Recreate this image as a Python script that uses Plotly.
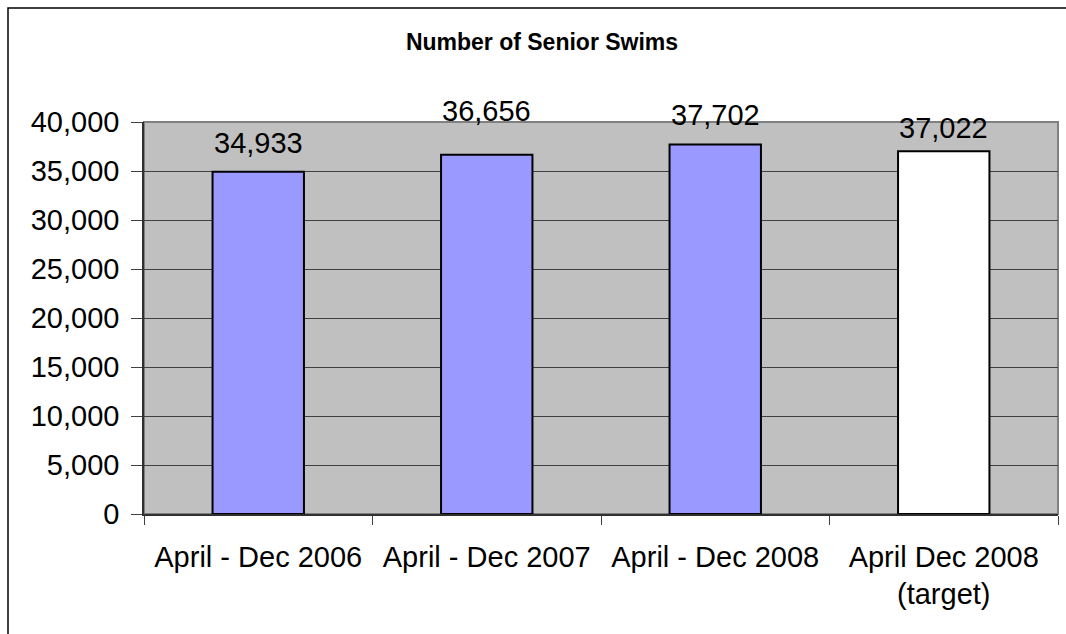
import plotly.graph_objects as go

# Senior swims per period
categories = ["April - Dec 2006", "April - Dec 2007", "April - Dec 2008", "April Dec 2008<br>(target)"]
swims = [34933, 36656, 37702, 37022]
bar_colors = ["#9999FF", "#9999FF", "#9999FF", "#FFFFFF"]
label_shift = [29, 44, 30, 23]  # vertical offset of each value label, px
y_ticks = [0, 5000, 10000, 15000, 20000, 25000, 30000, 35000, 40000]

W, H = 1066, 634
ML, MR, MT, MB = 144, 8, 122, 120
FONT = "Liberation Sans, Arial, sans-serif"

fig = go.Figure()
fig.add_trace(go.Bar(
    x=categories,
    y=swims,
    width=0.4,
    marker=dict(color=bar_colors, line=dict(color="#000000", width=2)),
    hoverinfo="skip",
))

# value labels above each bar
for cat, val, dy in zip(categories, swims, label_shift):
    fig.add_annotation(
        x=cat, y=val, text=f"{val:,}", showarrow=False,
        yanchor="middle", yshift=dy,
        font=dict(family=FONT, size=29, color="#000000"),
    )

# outer chart frame (left and top edges visible)
pw, ph = W - ML - MR, H - MT - MB
fig.add_shape(
    type="rect", xref="paper", yref="paper",
    x0=(8 - ML) / pw, x1=(W + 20 - ML) / pw,
    y0=-(H + 20 - (H - MB)) / ph, y1=(H - MB - 8) / ph,
    line=dict(color="#000000", width=1.5), fillcolor="rgba(0,0,0,0)",
    layer="below",
)

# plot area border top/right
fig.add_shape(
    type="rect", xref="paper", yref="paper", x0=0, x1=1, y0=0, y1=1,
    line=dict(color="#808080", width=2), fillcolor="rgba(0,0,0,0)",
    layer="below",
)

fig.update_layout(
    width=W, height=H,
    margin=dict(l=ML, r=MR, t=MT, b=MB),
    paper_bgcolor="#FFFFFF",
    plot_bgcolor="#C0C0C0",
    showlegend=False,
    bargap=0.6,
    title=dict(
        text="<b>Number of Senior Swims</b>",
        x=542 / W, xanchor="center", xref="container",
        y=1 - 42 / H, yanchor="middle", yref="container",
        font=dict(family=FONT, size=23, color="#000000"),
    ),
    font=dict(family=FONT, size=29, color="#000000"),
)

fig.update_xaxes(
    type="category",
    range=[-0.5, 3.5],
    tickson="boundaries",
    ticks="outside", ticklen=9, tickwidth=1, tickcolor="#404040",
    showline=True, linecolor="#303030", linewidth=1.5,
    showgrid=False,
    ticklabelstandoff=16,
    tickfont=dict(family=FONT, size=29, color="#000000"),
)

fig.update_yaxes(
    range=[0, 40000],
    tickvals=y_ticks,
    ticktext=[f"{v:,}" for v in y_ticks],
    ticks="outside", ticklen=11, tickwidth=1, tickcolor="#404040",
    showline=True, linecolor="#303030", linewidth=1.5,
    showgrid=True, gridcolor="#404040", gridwidth=1,
    zeroline=False,
    ticklabelstandoff=6,
    tickfont=dict(family=FONT, size=29, color="#000000"),
)

fig.write_html("out.html")
